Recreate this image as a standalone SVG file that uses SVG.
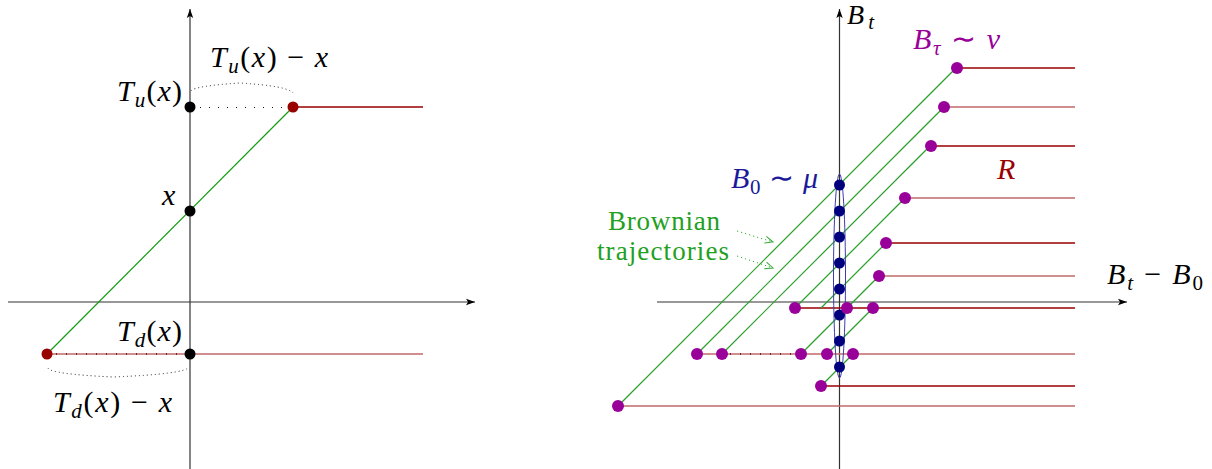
<svg xmlns="http://www.w3.org/2000/svg" width="1212" height="469" viewBox="0 0 1212 469">
<style>
.ax{stroke:#333;stroke-width:1.2;fill:none}
.gr{stroke:#109c10;stroke-width:1.2;fill:none}
.gr2{stroke:#2aa02a;stroke-width:1.2;fill:none}
.rd{stroke:#990000;stroke-width:1.3;fill:none}
.rdl{stroke:#c06868;stroke-width:1.6;fill:none}
.dot{stroke:#111;stroke-width:1.2;stroke-dasharray:1 8;fill:none}
.brace{stroke:#222;stroke-width:1;stroke-dasharray:1 3;fill:none}
.tick{stroke:#4a0000;stroke-width:1.6;stroke-dasharray:1 9;fill:none}
.garr{stroke:#33aa33;stroke-width:1;stroke-dasharray:1.2 3;fill:none}
.blk{fill:#000}
.red{fill:#990000}
.pur{fill:#990099}
.blu{fill:#00007f}
.it{font-style:italic}
.sub{font-size:21px;font-style:italic}
</style>
<defs>
<marker id="ah" markerWidth="10" markerHeight="8" refX="9" refY="4" orient="auto" markerUnits="userSpaceOnUse">
<path d="M0,0.8 L9,4 L0,7.2 L2,4 Z" fill="#000"/>
</marker>
<marker id="gah" markerWidth="10" markerHeight="10" refX="8" refY="5" orient="auto" markerUnits="userSpaceOnUse">
<path d="M0,1.5 L8,5 L0,8.5" fill="none" stroke="#33aa33" stroke-width="1"/>
</marker>
</defs>

<g id="connectors">
<line class="ax" x1="8" y1="302" x2="475" y2="302" marker-end="url(#ah)"/>
<line class="ax" x1="190" y1="469" x2="190" y2="9" marker-end="url(#ah)"/>
<line class="rd" x1="293" y1="107" x2="423" y2="107"/>
<line class="rdl" x1="47" y1="354" x2="423" y2="354"/>
<line class="tick" x1="56" y1="354" x2="190" y2="354"/>
<line class="dot" x1="200" y1="107.5" x2="290" y2="107.5"/>
<path class="brace" d="M191,91 Q194,86 240,83 Q288,86 293,93"/>
<path class="brace" d="M48,368 Q50,374 113,377 Q186,374 189,367"/>
<line class="gr" x1="47" y1="354" x2="293" y2="107"/>

<line class="ax" x1="657" y1="302" x2="1127" y2="302" marker-end="url(#ah)"/>
<line class="ax" x1="839.5" y1="469" x2="839.5" y2="9" marker-end="url(#ah)"/>
<line class="rd" x1="957" y1="68" x2="1075" y2="68"/>
<line class="rdl" x1="944" y1="107" x2="1075" y2="107"/>
<line class="rd" x1="931" y1="146" x2="1075" y2="146"/>
<line class="rdl" x1="905" y1="198" x2="1075" y2="198"/>
<line class="rd" x1="886" y1="243" x2="1075" y2="243"/>
<line class="rdl" x1="879" y1="276" x2="1075" y2="276"/>
<line class="rd" x1="795" y1="308" x2="1075" y2="308"/>
<line class="rdl" x1="697" y1="354" x2="1075" y2="354"/>
<line class="tick" x1="730" y1="354" x2="801" y2="354"/>
<line class="rd" x1="821" y1="386" x2="1075" y2="386"/>
<line class="rdl" x1="618" y1="406" x2="1075" y2="406"/>
<line class="gr2" x1="618" y1="406" x2="957" y2="67"/>
<line class="gr2" x1="697" y1="354" x2="944" y2="107"/>
<line class="gr2" x1="722" y1="354" x2="930" y2="146"/>
<line class="gr2" x1="795" y1="308" x2="905" y2="198"/>
<line class="gr2" x1="821" y1="308" x2="886" y2="243"/>
<line class="gr2" x1="801" y1="354" x2="879" y2="276"/>
<line class="gr2" x1="827" y1="354" x2="873" y2="308"/>
<line class="gr2" x1="821" y1="386" x2="853" y2="354"/>
<line class="garr" x1="737" y1="231" x2="773" y2="242" marker-end="url(#gah)"/>
<line class="garr" x1="737" y1="256" x2="773" y2="268" marker-end="url(#gah)"/>
</g>

<g id="left-nodes">
<circle id="n-Tu" class="blk" cx="190" cy="107" r="5.5"/>
<circle id="n-x" class="blk" cx="190" cy="211" r="5.5"/>
<circle id="n-Td" class="blk" cx="190" cy="354" r="5.5"/>
<circle id="n-up" class="red" cx="293" cy="107" r="5.5"/>
<circle id="n-down" class="red" cx="47" cy="354" r="5.5"/>
</g>

<g id="mu-set">
<ellipse cx="839.5" cy="276" rx="6" ry="102" fill="none" stroke="#3c3cb0" stroke-width="1"/>
<circle class="blu" cx="839.5" cy="185" r="5.5"/>
<circle class="blu" cx="839.5" cy="211" r="5.5"/>
<circle class="blu" cx="839.5" cy="237" r="5.5"/>
<circle class="blu" cx="839.5" cy="263" r="5.5"/>
<circle class="blu" cx="839.5" cy="289" r="5.5"/>
<circle class="blu" cx="839.5" cy="315" r="5.5"/>
<circle class="blu" cx="839.5" cy="341" r="5.5"/>
<circle class="blu" cx="839.5" cy="367" r="5.5"/>
</g>

<g id="nu-set">
<circle class="pur" cx="957" cy="68" r="6"/>
<circle class="pur" cx="944" cy="107" r="6"/>
<circle class="pur" cx="931" cy="146" r="6"/>
<circle class="pur" cx="905" cy="198" r="6"/>
<circle class="pur" cx="886" cy="243" r="6"/>
<circle class="pur" cx="879" cy="276" r="6"/>
<circle class="pur" cx="795" cy="308" r="6"/>
<circle class="pur" cx="847" cy="308" r="6"/>
<circle class="pur" cx="873" cy="308" r="6"/>
<circle class="pur" cx="697" cy="354" r="6"/>
<circle class="pur" cx="722" cy="354" r="6"/>
<circle class="pur" cx="801" cy="354" r="6"/>
<circle class="pur" cx="827" cy="354" r="6"/>
<circle class="pur" cx="853" cy="354" r="6"/>
<circle class="pur" cx="821" cy="386" r="6"/>
<circle class="pur" cx="618" cy="406" r="6"/>
</g>

<g id="labels" font-size="30" font-family="Liberation Serif, serif">
<text x="210" y="67" textLength="118" lengthAdjust="spacing"><tspan class="it">T</tspan><tspan class="sub" dy="6">u</tspan><tspan dy="-6">(</tspan><tspan class="it">x</tspan>) − <tspan class="it">x</tspan></text>
<text x="117" y="101" textLength="65" lengthAdjust="spacing"><tspan class="it">T</tspan><tspan class="sub" dy="6">u</tspan><tspan dy="-6">(</tspan><tspan class="it">x</tspan>)</text>
<text x="162" y="205" class="it">x</text>
<text x="117" y="341" textLength="65" lengthAdjust="spacing"><tspan class="it">T</tspan><tspan class="sub" dy="6">d</tspan><tspan dy="-6">(</tspan><tspan class="it">x</tspan>)</text>
<text x="53" y="412" textLength="119" lengthAdjust="spacing"><tspan class="it">T</tspan><tspan class="sub" dy="6">d</tspan><tspan dy="-6">(</tspan><tspan class="it">x</tspan>) − <tspan class="it">x</tspan></text>

<text x="847" y="24" font-size="28" textLength="27" lengthAdjust="spacing"><tspan class="it">B</tspan><tspan class="sub" dy="5">t</tspan></text>
<text x="913" y="49" fill="#990099" textLength="87" lengthAdjust="spacing"><tspan class="it">B</tspan><tspan class="sub" dy="6">τ</tspan><tspan dy="-6"> ∼ </tspan><tspan class="it">ν</tspan></text>
<text x="731" y="188" fill="#1a1a9a" textLength="87" lengthAdjust="spacing"><tspan class="it">B</tspan><tspan font-size="21" dy="6">0</tspan><tspan dy="-6"> ∼ </tspan><tspan class="it">μ</tspan></text>
<text x="997" y="179" fill="#990000" class="it">R</text>
<text x="608" y="230" fill="#22a022" font-size="27" textLength="112" lengthAdjust="spacing">Brownian</text>
<text x="597" y="260" fill="#22a022" font-size="27" textLength="132" lengthAdjust="spacing">trajectories</text>
<text x="1107" y="284" textLength="96" lengthAdjust="spacing"><tspan class="it">B</tspan><tspan class="sub" dy="6">t</tspan><tspan dy="-6"> − </tspan><tspan class="it">B</tspan><tspan font-size="21" dy="6">0</tspan></text>
</g>
</svg>
